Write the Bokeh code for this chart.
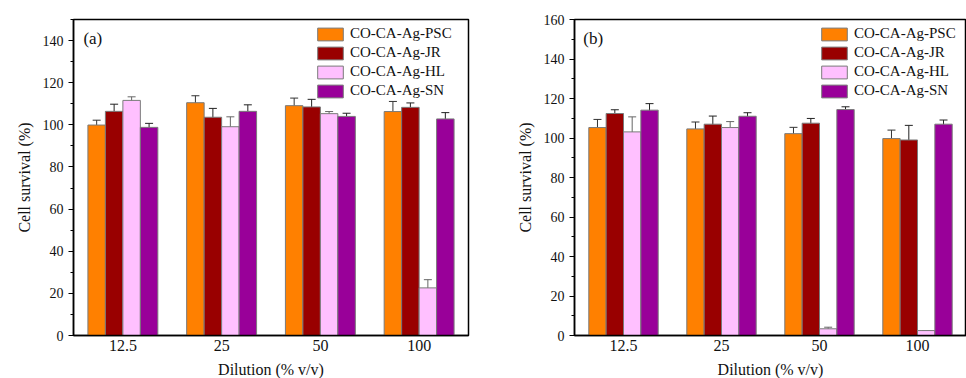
from bokeh.plotting import figure
from bokeh.layouts import row
from bokeh.models import (ColumnDataSource, Range1d, SingleIntervalTicker, Whisker,
                          TeeHead, Legend, LegendItem, Label, FixedTicker)
from bokeh.transform import dodge
from bokeh.embed import file_html
from bokeh.resources import INLINE

# Dilution levels (% v/v)
categories = ["12.5", "25", "50", "100"]
series = ["CO-CA-Ag-PSC", "CO-CA-Ag-JR", "CO-CA-Ag-HL", "CO-CA-Ag-SN"]
colors = ["#FF8000", "#990000", "#FFC0FF", "#990099"]

# Panel (a): cell survival (%) and standard deviations
a_psc = [99.9, 110.5, 109.1, 106.3]
a_jr = [106.4, 103.6, 108.5, 108.3]
a_hl = [111.6, 99.1, 105.3, 22.6]
a_sn = [98.8, 106.4, 104.0, 102.8]
a_psc_err = [2.3, 3.3, 3.6, 4.8]
a_jr_err = [3.4, 4.2, 3.6, 2.1]
a_hl_err = [1.7, 4.7, 1.0, 3.9]
a_sn_err = [1.9, 3.1, 1.5, 3.0]

# Panel (b): cell survival (%) and standard deviations
b_psc = [105.3, 104.6, 102.2, 99.7]
b_jr = [112.4, 107.0, 107.5, 99.0]
b_hl = [103.1, 105.3, 3.4, 2.5]
b_sn = [114.1, 111.0, 114.4, 107.0]
b_psc_err = [4.1, 3.5, 3.2, 4.3]
b_jr_err = [1.9, 4.1, 2.4, 7.4]
b_hl_err = [7.6, 3.0, 0.8, 0.0]
b_sn_err = [3.3, 1.8, 1.4, 2.1]

FONT = "Liberation Serif"
BAR_W = 0.177
OFFSETS = [-1.5 * BAR_W, -0.5 * BAR_W, 0.5 * BAR_W, 1.5 * BAR_W]
ERR_COLORS = ["#333333", "#222222", "#666666", "#222222"]


def make_panel(values, errors, ymax, tag, frame_w, left_border, right_border,
               tag_xy, legend_xy):
    p = figure(frame_width=frame_w, frame_height=316,
               min_border_left=left_border, min_border_right=right_border,
               min_border_top=19, min_border_bottom=43,
               x_range=Range1d(0.5, 4.5), y_range=Range1d(0, ymax),
               output_backend="svg", toolbar_location=None,
               background_fill_color="white", border_fill_color="white")
    p.grid.visible = False
    p.outline_line_color = "black"
    p.outline_line_width = 1.5

    xs = list(range(1, len(categories) + 1))
    items = []
    for i, (name, vals, errs) in enumerate(zip(series, values, errors)):
        src = ColumnDataSource(dict(
            x=xs, top=vals,
            lower=[v - e for v, e in zip(vals, errs)],
            upper=[v + e for v, e in zip(vals, errs)],
        ))
        r = p.vbar(x=dodge("x", OFFSETS[i]), top="top", width=BAR_W, source=src,
                   fill_color=colors[i], line_color="#7a7a7a", line_width=1)
        w = Whisker(base=dodge("x", OFFSETS[i]), lower="lower", upper="upper",
                    source=src, line_color=ERR_COLORS[i], line_width=1,
                    upper_head=TeeHead(size=8, line_color=ERR_COLORS[i], line_width=1),
                    lower_head=TeeHead(size=8, line_color=ERR_COLORS[i], line_width=1))
        p.add_layout(w)
        items.append(LegendItem(label=name, renderers=[r]))

    legend = Legend(items=items, location=legend_xy, margin=0, padding=5,
                    glyph_width=32, glyph_height=16, label_height=15,
                    label_standoff=4, spacing=2,
                    label_text_font=FONT, label_text_font_size="15px",
                    label_text_color="#111111",
                    border_line_color=None, background_fill_alpha=0)
    p.add_layout(legend)

    # x axis: category labels, no ticks
    p.xaxis.ticker = FixedTicker(ticks=xs)
    p.xaxis.major_label_overrides = {x: c for x, c in zip(xs, categories)}
    p.xaxis.major_tick_line_color = None
    p.xaxis.minor_tick_line_color = None
    p.xaxis.major_tick_out = 0
    p.xaxis.major_tick_in = 0
    p.xaxis.major_label_standoff = 4
    p.xaxis.axis_label = "Dilution (% v/v)"
    p.xaxis.axis_label_standoff = 7

    # y axis
    p.yaxis.ticker = SingleIntervalTicker(interval=20, num_minor_ticks=2)
    p.yaxis.major_tick_out = 5
    p.yaxis.major_tick_in = 0
    p.yaxis.minor_tick_out = 3
    p.yaxis.minor_tick_in = 0
    p.yaxis.major_label_standoff = 5
    p.yaxis.axis_label = "Cell survival (%)"
    p.yaxis.axis_label_standoff = 7

    for ax in (p.xaxis, p.yaxis):
        ax.axis_line_width = 1.5
        ax.axis_line_color = "black"
        ax.major_tick_line_width = 1.2
        ax.minor_tick_line_width = 1.2
        ax.major_label_text_font = FONT
        ax.axis_label_text_font = FONT
        ax.axis_label_text_font_style = "normal"
        ax.major_label_text_color = "#111111"
        ax.axis_label_text_color = "#111111"
        ax.axis_label_text_font_size = "16px"
    p.xaxis.major_label_text_font_size = "16px"
    p.yaxis.major_label_text_font_size = "14px"

    p.add_layout(Label(x=tag_xy[0], y=tag_xy[1], text=tag, text_font=FONT,
                       text_font_size="17px", text_color="#111111",
                       text_baseline="middle"))
    return p


pa = make_panel([a_psc, a_jr, a_hl, a_sn], [a_psc_err, a_jr_err, a_hl_err, a_sn_err],
                150, "(a)", 395, 73, 12, (0.6, 141), (241, 236))
pb = make_panel([b_psc, b_jr, b_hl, b_sn], [b_psc_err, b_jr_err, b_hl_err, b_sn_err],
                160, "(b)", 392, 94, 0, (0.59, 150.4), (244, 236))

layout = row(pa, pb)
open("out.html", "w").write(file_html(layout, INLINE))
